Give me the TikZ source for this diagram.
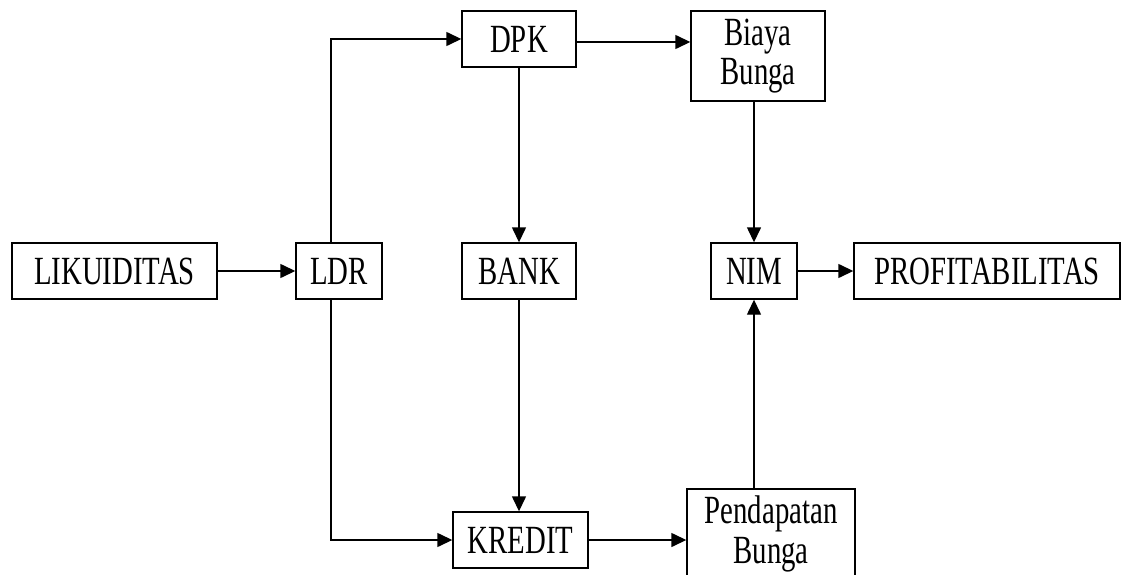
\documentclass[tikz,border=0pt]{standalone}
\usepackage{fontspec}
\setmainfont{Liberation Serif}[FakeStretch=0.72]
\usetikzlibrary{arrows.meta}
\tikzset{
  kotak/.style={draw, line width=1.4pt, inner sep=0pt, align=center, font=\fontsize{40}{31}\selectfont},
  panah/.style={-{Triangle[length=15pt,width=14pt]}, line width=1.4pt}
}
\begin{document}
\begin{tikzpicture}[x=1pt,y=-1pt]
        \clip (0,0) rectangle (1121,575);

        %kotak kiri
        \node[kotak, minimum width=205pt, minimum height=56pt] (lik) at (114.5,271) {LIKUIDITAS};
        \node[kotak, minimum width=86pt, minimum height=56pt] (ldr) at (339,271) {LDR};

        %kotak tengah
        \node[kotak, minimum width=114pt, minimum height=56pt] (dpk) at (519,39) {DPK};
        \node[kotak, minimum width=114pt, minimum height=56pt] (bank) at (519,271) {BANK};
        \node[kotak, minimum width=135pt, minimum height=56pt] (kredit) at (520.5,540) {KREDIT};

        %kotak kanan
        \node[kotak, minimum width=134pt, minimum height=90pt] (biaya) at (758,56) {Biaya\\[4pt]Bunga};
        \node[kotak, minimum width=86pt, minimum height=56pt] (nim) at (754,271) {NIM};
        \node[kotak, minimum width=168pt, minimum height=90pt] (pend) at (771,534) {Pendapatan\\[4pt]Bunga};
        \node[kotak, minimum width=266pt, minimum height=56pt] (prof) at (987,271) {PROFITABILITAS};

        %panah
        \draw[panah] (lik) -- (ldr);
        \draw[panah] ([xshift=-8pt]ldr.north) |- (dpk.west);
        \draw[panah] ([xshift=-8pt]ldr.south) |- (kredit.west);
        \draw[panah] ([yshift=-3pt]dpk.east) -- ([yshift=-3pt]dpk.east -| biaya.west);
        \draw[panah] (dpk) -- (bank);
        \draw[panah] (bank.south) -- (bank.south |- kredit.north);
        \draw[panah] (kredit) -- (kredit -| pend.west);
        \draw[panah] (nim.north |- biaya.south) -- (nim.north);
        \draw[panah] (nim.south |- pend.north) -- (nim.south);
        \draw[panah] (nim) -- (prof);
    \end{tikzpicture}
\end{document}
